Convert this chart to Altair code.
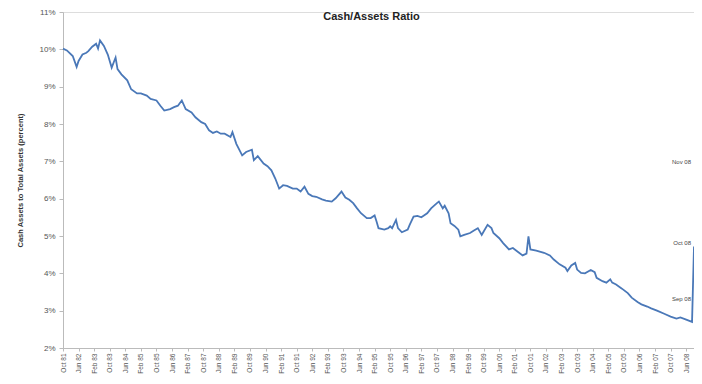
import altair as alt
import pandas as pd

# Months after Oct 1981 and the cash/assets ratio (percent)
month_offsets = [0, 2, 5, 7, 8, 10, 12, 13, 15, 17, 18, 19, 21, 23, 25, 27, 28, 30, 33, 35,
                 38, 40, 43, 45, 48, 50, 52, 55, 57, 59, 61, 63, 66, 68, 71, 73, 75, 77, 79, 81,
                 83, 86, 87, 89, 92, 94, 97, 98, 100, 103, 105, 107, 109, 111, 113, 115, 118, 120, 122, 124,
                 126, 128, 130, 133, 135, 138, 140, 143, 145, 147, 149, 151, 153, 156, 158, 160, 161, 162, 165, 167,
                 168, 169, 171, 172, 174, 177, 178, 180, 182, 184, 187, 189, 192, 193, 195, 196, 198, 199, 201, 203,
                 204, 206, 209, 211, 213, 215, 216, 218, 220, 221, 224, 226, 229, 231, 234, 236, 238, 239, 240, 243,
                 247, 250, 252, 255, 258, 259, 261, 263, 264, 266, 268, 271, 273, 274, 277, 279, 281, 282, 284, 287,
                 290, 292, 295, 297, 300, 302, 305, 309, 312, 315, 317, 320, 323, 324]
ratio = [10.02, 9.97, 9.82, 9.53, 9.69, 9.86, 9.91, 9.95, 10.07, 10.15, 10.02, 10.24, 10.09, 9.86, 9.51, 9.78, 9.47, 9.33, 9.17, 8.93,
         8.82, 8.82, 8.76, 8.67, 8.63, 8.49, 8.36, 8.40, 8.45, 8.49, 8.63, 8.40, 8.31, 8.18, 8.05, 8.00, 7.83, 7.76, 7.80, 7.74,
         7.74, 7.65, 7.78, 7.47, 7.16, 7.25, 7.31, 7.03, 7.14, 6.94, 6.87, 6.76, 6.54, 6.27, 6.36, 6.34, 6.27, 6.27, 6.19, 6.32,
         6.13, 6.07, 6.05, 5.98, 5.95, 5.92, 6.01, 6.19, 6.03, 5.97, 5.88, 5.74, 5.61, 5.48, 5.48, 5.55, 5.39, 5.21, 5.17, 5.21,
         5.26, 5.21, 5.43, 5.21, 5.10, 5.17, 5.30, 5.52, 5.54, 5.50, 5.61, 5.74, 5.88, 5.92, 5.74, 5.81, 5.61, 5.34, 5.27, 5.17,
         4.99, 5.03, 5.08, 5.15, 5.21, 5.03, 5.12, 5.30, 5.21, 5.08, 4.94, 4.81, 4.64, 4.68, 4.56, 4.48, 4.53, 4.99, 4.64, 4.61,
         4.55, 4.48, 4.37, 4.24, 4.15, 4.06, 4.21, 4.28, 4.10, 4.01, 4.00, 4.09, 4.03, 3.88, 3.79, 3.75, 3.84, 3.75, 3.70, 3.59,
         3.47, 3.35, 3.23, 3.17, 3.11, 3.06, 3.00, 2.91, 2.84, 2.79, 2.82, 2.76, 2.70, 4.72]

# x-axis tick labels every 8 months, Oct 81 .. Jun 08
tick_offsets = list(range(0, 321, 8))
tick_labels = ["Oct 81", "Jun 82", "Feb 83", "Oct 83", "Jun 84", "Feb 85", "Oct 85", "Jun 86",
               "Feb 87", "Oct 87", "Jun 88", "Feb 89", "Oct 89", "Jun 90", "Feb 91", "Oct 91",
               "Jun 92", "Feb 93", "Oct 93", "Jun 94", "Feb 95", "Oct 95", "Jun 96", "Feb 97",
               "Oct 97", "Jun 98", "Feb 99", "Oct 99", "Jun 00", "Feb 01", "Oct 01", "Jun 02",
               "Feb 03", "Oct 03", "Jun 04", "Feb 05", "Oct 05", "Jun 06", "Feb 07", "Oct 07", "Jun 08"]
y_ticks = [2, 3, 4, 5, 6, 7, 8, 9, 10, 11]

# annotations at the right edge (month offset 324 = Oct 08)
note_labels = ["Nov 08", "Oct 08", "Sep 08"]
note_values = [6.98, 4.80, 3.30]
note_month = 324

df = pd.DataFrame({"month": month_offsets, "ratio": ratio})
notes = pd.DataFrame({"month": [note_month] * len(note_labels),
                      "ratio": note_values, "label": note_labels})

label_js = "[" + ",".join("'" + s + "'" for s in tick_labels) + "]"

x_scale = alt.Scale(domain=[0, 324], nice=False, zero=False)
y_scale = alt.Scale(domain=[2, 11], nice=False)

line = alt.Chart(df).mark_line(color="#4a78b8", strokeWidth=1.8).encode(
    x=alt.X("month:Q", scale=x_scale,
            axis=alt.Axis(values=tick_offsets, tickCount=100,
                          labelExpr=label_js + "[round(datum.value / 8)]",
                          labelAngle=270, labelFontSize=6.5, labelColor="#555555",
                          labelFont="Liberation Sans", labelAlign="right", labelBaseline="middle",
                          labelPadding=2, tickSize=3, tickColor="#bbbbbb", domainColor="#bbbbbb",
                          grid=False, title=None, labelOverlap=False, labelFlush=False,
                          labelBound=False)),
    y=alt.Y("ratio:Q", scale=y_scale,
            axis=alt.Axis(values=y_ticks, tickCount=100, labelExpr="datum.value + '%'",
                          labelFontSize=8, labelColor="#555555", labelFont="Liberation Sans",
                          tickSize=4, tickColor="#bbbbbb", domainColor="#bbbbbb",
                          grid=False, labelPadding=4, labelOverlap=False, labelFlush=False,
                          title="Cash Assets to Total Assets (percent)",
                          titleFontSize=7.5, titleFontWeight="bold", titleColor="#333333",
                          titleFont="Liberation Sans", titlePadding=14)),
)

text = alt.Chart(notes).mark_text(align="right", baseline="middle", dx=-3, fontSize=6,
                                  color="#444444", font="Liberation Sans").encode(
    x=alt.X("month:Q", scale=x_scale),
    y=alt.Y("ratio:Q", scale=y_scale),
    text="label:N",
)

chart = alt.layer(line, text).properties(
    width=631,
    height=336,
    title=alt.TitleParams("Cash/Assets Ratio", fontSize=11, fontWeight="bold",
                          font="Liberation Sans", color="#222222",
                          anchor="middle", dx=-7, offset=-14),
    autosize=alt.AutoSizeParams(type="none"),
    padding={"left": 55, "top": 4, "right": 0, "bottom": 28},
).configure_view(stroke=None).configure(background="white")

chart.save("out.html", embed_options={"renderer": "svg", "actions": False})
